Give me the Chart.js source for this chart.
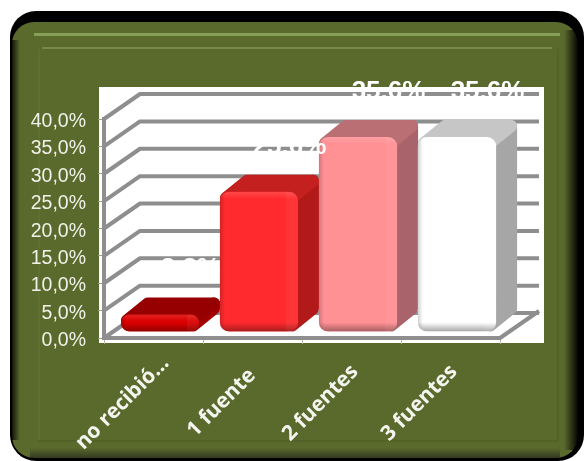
<!DOCTYPE html>
<html>
<head>
<meta charset="utf-8">
<title>Fuentes</title>
<script src="https://cdn.jsdelivr.net/npm/chart.js@4"></script>
<style>
  html, body { margin: 0; padding: 0; background: #fff; }
  canvas { display: block; }
</style>
</head>
<body>
<canvas id="fuentesChart" width="584" height="461"></canvas>
<script>
const categories = ['no recibió…', '1 fuente', '2 fuentes', '3 fuentes'];
const percentages = [3.2, 25.6, 35.6, 35.6];
const tickLabels = ['0,0%', '5,0%', '10,0%', '15,0%', '20,0%', '25,0%', '30,0%', '35,0%', '40,0%'];

const frontColors = ['#dc0000', '#ff2a2d', '#ff9094', '#ffffff'];
const topColors = ['#960000', '#c42020', '#b96f73', '#c6c6c6'];
const sideColors = ['#a30000', '#b21a1a', '#a8646a', '#a6a6a6'];

const GRID = '#8e8e8e';
const OLIVE = '#5a692c';
// fake 3D: how far the back wall sits from the axes, and how deep the bars are
const WALL_DX = 36, WALL_DY = -25;
const BAR_SHIFT_X = 6.5, BAR_SHIFT_Y = -6;
const DEPTH_X = 21, DEPTH_Y = -17;

function drawFrame(ctx) {
  ctx.fillStyle = '#000';
  ctx.beginPath();
  ctx.roundRect(10, 11, 574, 450, 26);
  ctx.fill();

  ctx.fillStyle = OLIVE;
  ctx.beginPath();
  ctx.roundRect(12, 22, 566, 436, 22);
  ctx.fill();

  // edges fading into the black border
  let g = ctx.createLinearGradient(564, 0, 578, 0);
  g.addColorStop(0, 'rgba(0,0,0,0)');
  g.addColorStop(1, 'rgba(0,0,0,0.95)');
  ctx.fillStyle = g;
  ctx.fillRect(564, 30, 14, 420);

  g = ctx.createLinearGradient(12, 0, 20, 0);
  g.addColorStop(0, 'rgba(0,0,0,0.8)');
  g.addColorStop(1, 'rgba(0,0,0,0)');
  ctx.fillStyle = g;
  ctx.fillRect(12, 40, 8, 400);

  g = ctx.createLinearGradient(0, 448, 0, 458);
  g.addColorStop(0, 'rgba(40,40,30,0)');
  g.addColorStop(1, 'rgba(40,40,30,0.75)');
  ctx.fillStyle = g;
  ctx.fillRect(30, 448, 530, 10);

  // bevel lines
  ctx.fillStyle = '#86a058';
  ctx.fillRect(34, 33, 526, 3);
  ctx.fillStyle = '#75894b';
  ctx.fillRect(42, 47, 510, 2);
  ctx.fillStyle = '#5f6f31';
  ctx.fillRect(38, 49, 2, 391);
  ctx.fillStyle = '#536227';
  ctx.fillRect(557, 49, 2, 391);
  ctx.fillRect(38, 440, 521, 2);
}

const backdropPlugin = {
  id: 'backdrop',
  beforeDraw(chart) {
    const ctx = chart.ctx;
    ctx.save();
    drawFrame(ctx);
    ctx.fillStyle = '#fff';
    ctx.fillRect(99, 87, 445, 256);
    ctx.restore();
  }
};

const wallPlugin = {
  id: 'wall',
  beforeDatasetsDraw(chart) {
    const ctx = chart.ctx;
    const y = chart.scales.y;
    const { left, right } = chart.chartArea;
    const backLeft = left + WALL_DX;
    const backRight = right + 39;
    ctx.save();
    ctx.strokeStyle = GRID;
    ctx.lineWidth = 4;
    ctx.lineJoin = 'round';
    y.ticks.forEach(t => {
      const py = y.getPixelForValue(t.value);
      ctx.beginPath();
      ctx.moveTo(left, py);
      ctx.lineTo(backLeft, py + WALL_DY);
      ctx.lineTo(backRight, py + WALL_DY);
      ctx.stroke();
    });
    // floor, right side
    const floor = y.getPixelForValue(0);
    ctx.beginPath();
    ctx.moveTo(right, floor);
    ctx.lineTo(backRight, floor + WALL_DY - 2);
    ctx.stroke();
    ctx.restore();

    // bars go through a small shift so they stand on the floor, not on its edge
    ctx.save();
    ctx.translate(BAR_SHIFT_X, BAR_SHIFT_Y);
    chart.getDatasetMeta(0).data.forEach((bar, i) => {
      const half = bar.width / 2;
      const inset = 6;
      const l = bar.x - half + inset, r = bar.x + half - inset;
      const t = bar.y + inset, b = bar.base - inset;
      ctx.lineJoin = 'round';
      ctx.lineWidth = inset * 2;
      ctx.fillStyle = ctx.strokeStyle = sideColors[i];
      ctx.beginPath();
      ctx.moveTo(r, t);
      ctx.lineTo(r + DEPTH_X, t + DEPTH_Y);
      ctx.lineTo(r + DEPTH_X, Math.max(b + DEPTH_Y, t + DEPTH_Y));
      ctx.lineTo(r, b);
      ctx.closePath();
      ctx.fill();
      ctx.stroke();
      ctx.fillStyle = ctx.strokeStyle = topColors[i];
      ctx.beginPath();
      ctx.moveTo(l, t);
      ctx.lineTo(r, t);
      ctx.lineTo(r + DEPTH_X, t + DEPTH_Y);
      ctx.lineTo(l + DEPTH_X, t + DEPTH_Y);
      ctx.closePath();
      ctx.fill();
      ctx.stroke();
    });
  },
  afterDatasetsDraw(chart) {
    const ctx = chart.ctx;
    // shading on the front faces
    chart.getDatasetMeta(0).data.forEach(bar => {
      const half = bar.width / 2;
      const l = bar.x - half, w = bar.width;
      const t = bar.y, h = bar.base - bar.y;
      ctx.save();
      ctx.beginPath();
      ctx.roundRect(l, t, w, h, 9);
      ctx.clip();
      let g = ctx.createLinearGradient(0, bar.base - 9, 0, bar.base);
      g.addColorStop(0, 'rgba(0,0,0,0)');
      g.addColorStop(1, 'rgba(0,0,0,0.35)');
      ctx.fillStyle = g;
      ctx.fillRect(l, bar.base - 9, w, 9);
      g = ctx.createLinearGradient(l, 0, l + 5, 0);
      g.addColorStop(0, 'rgba(0,0,0,0.18)');
      g.addColorStop(1, 'rgba(0,0,0,0)');
      ctx.fillStyle = g;
      ctx.fillRect(l, t, 5, h);
      g = ctx.createLinearGradient(0, t, 0, t + 7);
      g.addColorStop(0, 'rgba(255,255,255,0.14)');
      g.addColorStop(1, 'rgba(255,255,255,0)');
      ctx.fillStyle = g;
      ctx.fillRect(l, t, w, 7);
      ctx.fillStyle = 'rgba(255,255,255,0.05)';
      ctx.fillRect(l + w - 12, t, 12, h);
      ctx.restore();
    });
    ctx.restore();

    // value labels, white like the wall behind them
    ctx.save();
    ctx.fillStyle = '#fff';
    ctx.font = 'bold 26px "Liberation Sans"';
    ctx.textAlign = 'center';
    ctx.textBaseline = 'alphabetic';
    chart.getDatasetMeta(0).data.forEach((bar, i) => {
      const text = percentages[i].toFixed(1).replace('.', ',') + '%';
      ctx.fillText(text, bar.x + 37, bar.y - 44);
    });
    ctx.restore();

    // y tick labels sit a little under their tick marks
    const y = chart.scales.y;
    ctx.save();
    ctx.fillStyle = '#f0f1e8';
    ctx.font = '19.5px "Liberation Sans"';
    ctx.textAlign = 'right';
    ctx.textBaseline = 'alphabetic';
    y.ticks.forEach((t, i) => {
      ctx.fillText(tickLabels[i], 86, y.getPixelForValue(t.value) + 8);
    });
    ctx.restore();

    // category labels at 45 degrees, centred on a point left of each tick
    const x = chart.scales.x;
    ctx.save();
    ctx.fillStyle = '#f4f5ee';
    ctx.font = 'bold 21px "Open Sans"';
    ctx.textAlign = 'center';
    ctx.textBaseline = 'middle';
    categories.forEach((label, i) => {
      ctx.save();
      ctx.translate(x.getPixelForTick(i) - 31, 403);
      ctx.rotate(-Math.PI / 4);
      ctx.fillText(label, 0, 0);
      ctx.restore();
    });
    ctx.restore();
  }
};

new Chart(document.getElementById('fuentesChart'), {
  type: 'bar',
  data: {
    labels: categories,
    datasets: [{
      data: percentages,
      backgroundColor: frontColors,
      borderRadius: 9,
      borderSkipped: false,
      barPercentage: 0.79,
      categoryPercentage: 1,
      clip: false
    }]
  },
  options: {
    responsive: false,
    animation: false,
    layout: { padding: { left: 0, right: 84, top: 119, bottom: 123 } },
    plugins: { legend: { display: false }, tooltip: { enabled: false } },
    scales: {
      x: {
        afterFit(scale) { scale.height = 0; },
        border: { color: GRID, width: 4 },
        grid: { drawOnChartArea: false, color: '#b5b8a5', tickLength: 6 },
        ticks: { display: false }
      },
      y: {
        min: 0,
        max: 40,
        afterFit(scale) { scale.width = 104; },
        border: { color: GRID, width: 4 },
        grid: { drawOnChartArea: false, color: '#9a9c8c', tickLength: 6 },
        ticks: { display: false, stepSize: 5 }
      }
    }
  },
  plugins: [backdropPlugin, wallPlugin]
});
</script>
</body>
</html>
